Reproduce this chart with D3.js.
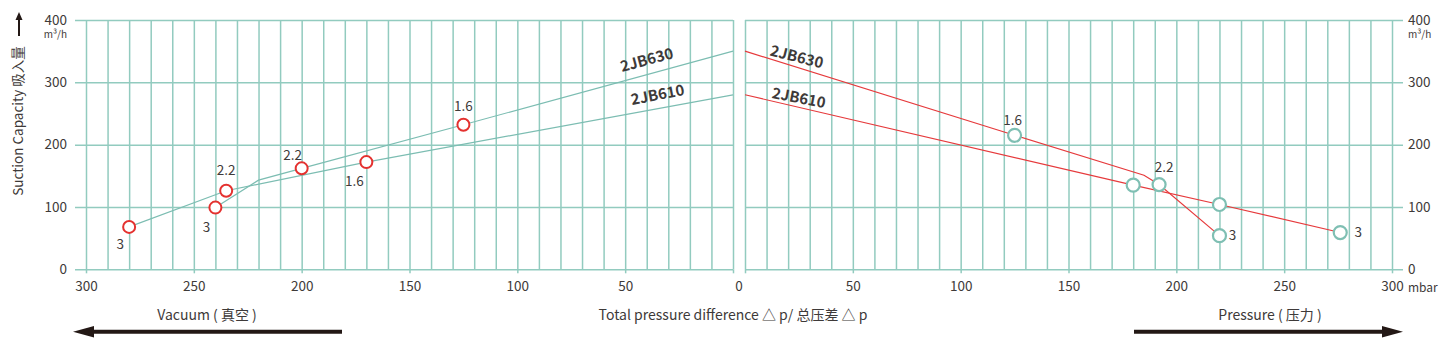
<html>
<head>
  <meta charset="utf-8">
  <script src="https://d3js.org/d3.v7.min.js"></script>
  <style>
    body { margin: 0; background: #fff; }
    text { font-family: "Noto Sans CJK SC", "Noto Sans", sans-serif; fill: #3e3a39; }
    .grid line { stroke: #92cbbf; stroke-width: 1.5; }
    .grid .domain { stroke: none; }
  </style>
</head>
<body>
<svg id="chart" width="1447" height="351"></svg>
<script>
  // ticks
  const pressureTicks = [0, 50, 100, 150, 200, 250, 300];
  const capacityTicks = [0, 100, 200, 300, 400];

  // vacuum side (pressure difference, capacity)
  const vac630 = [[240, 99], [220, 143], [200, 162], [125, 232], [0, 350]];
  const vac610 = [[280, 68], [235, 126], [170, 172], [0, 280]];
  const vacPoints = [[280, 68], [235, 126], [240, 99], [200, 162], [170, 172], [125, 232]];
  const vacLabels = ["3", "2.2", "3", "2.2", "1.6", "1.6"];

  // pressure side
  const prs630 = [[0, 350], [125, 215], [185, 151], [192, 136], [220, 54]];
  const prs610 = [[0, 280], [180, 135], [220, 104], [276, 59]];
  const prsPoints = [[125, 215], [180, 135], [192, 136], [220, 104], [220, 54], [276, 59]];
  const prsLabels = ["1.6", "", "2.2", "", "3", "3"];

  const svg = d3.select("svg#chart");

  const xL = d3.scaleLinear().domain([300, 0]).range([86, 733]);
  const xR = d3.scaleLinear().domain([0, 300]).range([745, 1392]);
  const y = d3.scaleLinear().domain([0, 400]).range([269.3, 20]);
  const y0 = y(0);
  const gridH = y(0) - y(400);

  // vertical gridlines every 10
  const fine = d3.range(0, 301, 10);
  svg.append("g").attr("class", "grid")
    .attr("transform", "translate(0," + y0 + ")")
    .call(d3.axisBottom(xL).tickValues(fine).tickSize(-gridH).tickFormat(""));
  svg.append("g").attr("class", "grid")
    .attr("transform", "translate(0," + y0 + ")")
    .call(d3.axisBottom(xR).tickValues(fine).tickSize(-gridH).tickFormat(""));

  // horizontal gridlines + y labels
  svg.append("g").attr("class", "grid")
    .attr("transform", "translate(75,0)")
    .call(d3.axisLeft(y).tickValues(capacityTicks).tickSize(-(733 - 75)).tickPadding(8));
  svg.append("g").attr("class", "grid")
    .attr("transform", "translate(745,0)")
    .call(d3.axisRight(y).tickValues(capacityTicks).tickSize(1403 - 745).tickPadding(5));

  // bottom tick marks + labels
  svg.append("g").attr("class", "grid")
    .attr("transform", "translate(0," + y0 + ")")
    .call(d3.axisBottom(xL).tickValues(pressureTicks).tickSize(4).tickPadding(8)
      .tickFormat(d => d === 0 ? "" : d));
  svg.append("g").attr("class", "grid")
    .attr("transform", "translate(0," + y0 + ")")
    .call(d3.axisBottom(xR).tickValues(pressureTicks).tickSize(4).tickPadding(8)
      .tickFormat(d => d === 0 ? "" : d));

  svg.selectAll(".grid text")
    .attr("font-size", 13.5)
    .style("font-family", "'Noto Sans CJK SC', sans-serif")
    .attr("fill", "#3e3a39");

  svg.append("text").attr("x", (xL(0) + xR(0)) / 2).attr("y", y0 + 12).attr("dy", "0.71em")
    .attr("text-anchor", "middle").attr("font-size", 13.5).text("0");
  svg.append("text").attr("x", 1408).attr("y", y0 + 14).attr("dy", "0.71em")
    .attr("font-size", 12).text("mbar");

  // units
  svg.append("text").attr("x", 67).attr("y", 38).attr("text-anchor", "end")
    .attr("font-size", 10).text("m³/h");
  svg.append("text").attr("x", 1408).attr("y", 38)
    .attr("font-size", 10).text("m³/h");

  // y axis title + arrow
  svg.append("text")
    .attr("transform", "translate(23,121) rotate(-90)")
    .attr("text-anchor", "middle").attr("font-size", 13.5)
    .text("Suction Capacity 吸入量");
  svg.append("line").attr("x1", 19).attr("x2", 19).attr("y1", 36).attr("y2", 18)
    .attr("stroke", "#231815").attr("stroke-width", 2);
  svg.append("path").attr("d", "M19,12 L15.5,20 L22.5,20 Z").attr("fill", "#231815");

  // series lines
  const lineL = d3.line().x(d => xL(d[0])).y(d => y(d[1]));
  const lineR = d3.line().x(d => xR(d[0])).y(d => y(d[1]));
  [vac630, vac610].forEach(s => {
    svg.append("path").attr("d", lineL(s)).attr("fill", "none")
      .attr("stroke", "#7cbdb2").attr("stroke-width", 1.2);
  });
  [prs630, prs610].forEach(s => {
    svg.append("path").attr("d", lineR(s)).attr("fill", "none")
      .attr("stroke", "#e63a3c").attr("stroke-width", 1.2);
  });

  // markers
  svg.selectAll("circle.vac").data(vacPoints).join("circle")
    .attr("class", "vac")
    .attr("cx", d => xL(d[0])).attr("cy", d => y(d[1])).attr("r", 6)
    .attr("fill", "#fff").attr("stroke", "#e4312f").attr("stroke-width", 2);
  svg.selectAll("circle.prs").data(prsPoints).join("circle")
    .attr("class", "prs")
    .attr("cx", d => xR(d[0])).attr("cy", d => y(d[1])).attr("r", 6.5)
    .attr("fill", "#fff").attr("stroke", "#7fbfb3").attr("stroke-width", 2.2);

  // point labels, offsets in px
  const vacOff = [[-9, 17], [0, -20], [-9, 20], [-9, -13], [-12, 19], [0, -18]];
  const prsOff = [[-2, -15], [0, 0], [5, -17], [0, 0], [13, 0], [18, 0]];
  svg.selectAll("text.vl").data(vacPoints).join("text")
    .attr("class", "vl")
    .attr("x", (d, i) => xL(d[0]) + vacOff[i][0])
    .attr("y", (d, i) => y(d[1]) + vacOff[i][1])
    .attr("dy", "0.35em").attr("text-anchor", "middle").attr("font-size", 13.5)
    .text((d, i) => vacLabels[i]);
  svg.selectAll("text.pl").data(prsPoints).join("text")
    .attr("class", "pl")
    .attr("x", (d, i) => xR(d[0]) + prsOff[i][0])
    .attr("y", (d, i) => y(d[1]) + prsOff[i][1])
    .attr("dy", "0.35em").attr("text-anchor", "middle").attr("font-size", 13.5)
    .text((d, i) => prsLabels[i]);

  // series names
  const names = [
    {t: "2JB630", x: xL(40), y: y(336), r: -15},
    {t: "2JB610", x: xL(35), y: y(280), r: -11},
    {t: "2JB630", x: xR(24), y: y(341), r: 14},
    {t: "2JB610", x: xR(25), y: y(275), r: 11}
  ];
  names.forEach(n => {
    svg.append("text")
      .attr("transform", "translate(" + n.x + "," + n.y + ") rotate(" + n.r + ")")
      .attr("dy", "0.35em").attr("text-anchor", "middle")
      .attr("font-size", 15).attr("font-weight", "bold").attr("fill", "#231f20")
      .text(n.t);
  });

  // bottom titles and arrows
  svg.append("text").attr("x", 207).attr("y", 320).attr("text-anchor", "middle")
    .attr("font-size", 14).text("Vacuum ( 真空 )");
  svg.append("text").attr("x", 733).attr("y", 320).attr("text-anchor", "middle")
    .attr("font-size", 14).text("Total pressure difference  △  p/ 总压差 △ p");
  svg.append("text").attr("x", 1270).attr("y", 320).attr("text-anchor", "middle")
    .attr("font-size", 14).text("Pressure ( 压力 )");

  svg.append("line").attr("x1", 342).attr("x2", 90).attr("y1", 331.7).attr("y2", 331.7)
    .attr("stroke", "#231815").attr("stroke-width", 4);
  svg.append("path").attr("d", "M73,331.7 L94,326 L94,337.4 Z").attr("fill", "#231815");
  svg.append("line").attr("x1", 1134).attr("x2", 1386).attr("y1", 331.7).attr("y2", 331.7)
    .attr("stroke", "#231815").attr("stroke-width", 4);
  svg.append("path").attr("d", "M1403,331.7 L1382,326 L1382,337.4 Z").attr("fill", "#231815");
</script>
</body>
</html>
